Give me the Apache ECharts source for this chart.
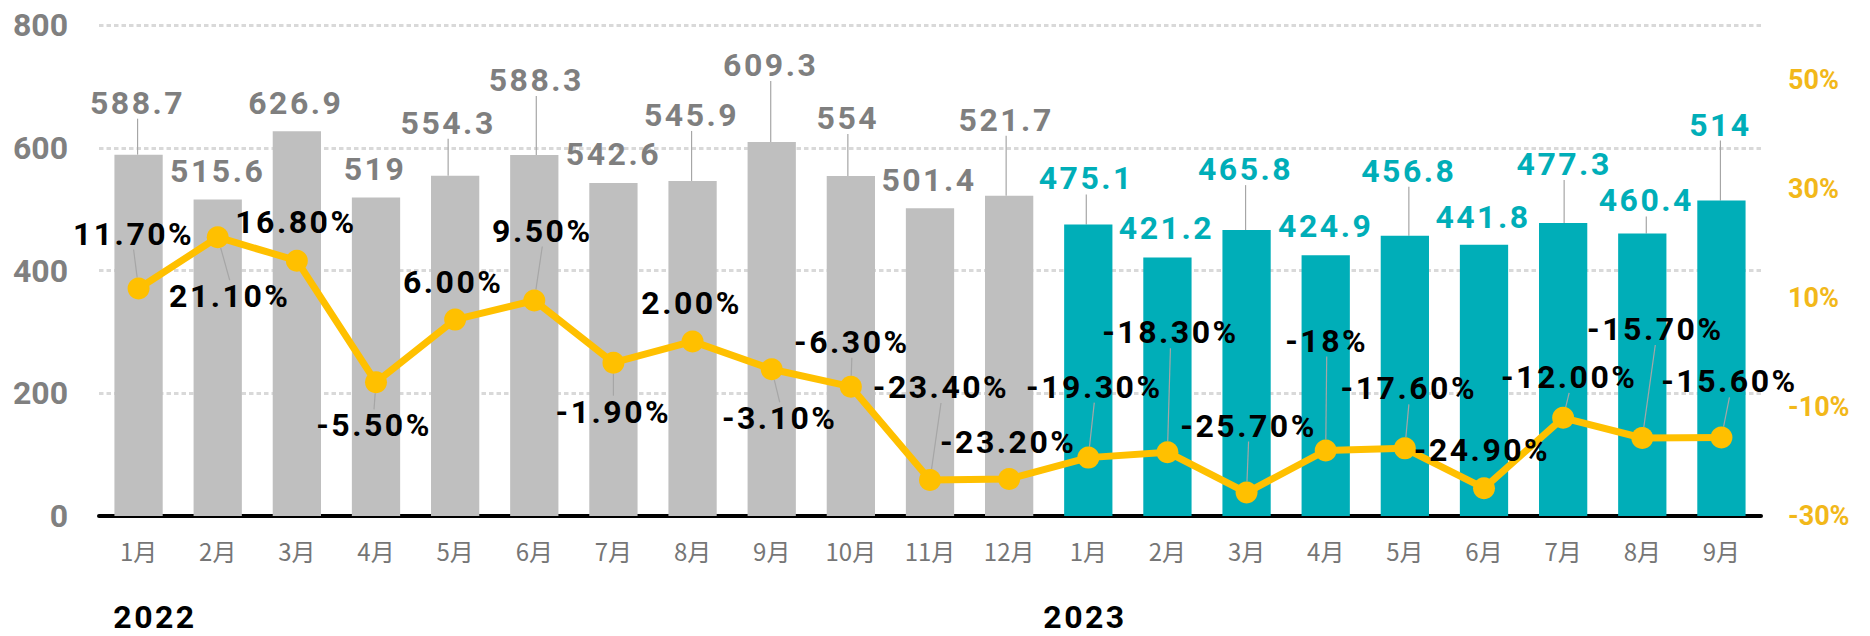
<!DOCTYPE html>
<html>
<head>
<meta charset="utf-8">
<title>chart</title>
<style>
  html, body { margin: 0; padding: 0; background: #fff; }
  #chart { width: 1870px; height: 636px; }
  /* 数据标签字间距 */
  #chart text[fill="#7f7f7f"],
  #chart text[fill="#00aeb8"],
  #chart text[fill="#000000"] { letter-spacing: 2.5px; }
</style>
<script src="https://cdn.jsdelivr.net/npm/echarts@6/dist/echarts.min.js"></script>
</head>
<body>
<div id="chart"></div>
<script>
// 月份
const months = ["1月", "2月", "3月", "4月", "5月", "6月", "7月", "8月", "9月", "10月", "11月", "12月",
  "1月", "2月", "3月", "4月", "5月", "6月", "7月", "8月", "9月"];
const years = ["2022", "2023"];
// 销量
const sales2022 = [588.7, 515.6, 626.9, 519, 554.3, 588.3, 542.6, 545.9, 609.3, 554, 501.4, 521.7];
const sales2023 = [475.1, 421.2, 465.8, 424.9, 456.8, 441.8, 477.3, 460.4, 514];
// 同比增长率
const growth = [11.7, 21.1, 16.8, -5.5, 6.0, 9.5, -1.9, 2.0, -3.1, -6.3, -23.4, -23.2,
  -19.3, -18.3, -25.7, -18, -17.6, -24.9, -12.0, -15.7, -15.6];
const growthText = ["11.70%", "21.10%", "16.80%", "-5.50%", "6.00%", "9.50%", "-1.90%", "2.00%", "-3.10%",
  "-6.30%", "-23.40%", "-23.20%", "-19.30%", "-18.30%", "-25.70%", "-18%", "-17.60%", "-24.90%",
  "-12.00%", "-15.70%", "-15.60%"];
// 坐标轴刻度
const leftTicks = [0, 200, 400, 600, 800];
const rightTicks = [-30, -10, 10, 30, 50];
const rightMax = 60;

// 标签偏移 [dx, dy]
const barLabelOffset = [[-1, -52], [0, -29], [-1, -28], [-1, -28], [-7, -53], [2, -75], [0, -29],
  [-1, -66], [-1, -77], [-3, -58], [-1, -28], [-3, -76], [-2, -46], [-1, -29], [-1, -61], [0, -29],
  [4, -65], [-1, -28], [1, -59], [4, -33], [-1, -76]];
const rateLabelOffset = [[-5, -55], [12, 59], [-1, -39], [-2, 43], [-2, -38], [8, -70], [0, 49],
  [-1, -38], [8, 49], [1, -45], [11, -93], [-1, -37], [6, -71], [3, -120], [2, -67], [1, -110],
  [4, -60], [-2, -38], [6, -41], [13, -109], [8, -56]];

const grayColor = "#bfbfbf";
const tealColor = "#00aeb8";
const lineColor = "#ffc000";
const leaderStyle = { color: "#a6a6a6", width: 1.2 };

const chart = echarts.init(document.getElementById("chart"), null, { renderer: "svg" });

const barData = sales2022.concat(sales2023).map((v, i) => ({
  value: v,
  itemStyle: { color: i < sales2022.length ? grayColor : tealColor },
  label: { color: i < sales2022.length ? "#7f7f7f" : tealColor },
  labelLine: { show: Math.abs(barLabelOffset[i][1]) > 31 }
}));

const lineData = growth.map((v, i) => ({
  value: v,
  labelLine: { show: Math.abs(rateLabelOffset[i][1]) > 40 }
}));

const option = {
  animation: false,
  backgroundColor: "#ffffff",
  grid: {
    left: 99,
    right: 109,
    top: 25,
    bottom: 120,
    containLabel: false,
    outerBoundsMode: "none"
  },
  xAxis: {
    type: "category",
    data: months,
    axisLine: { lineStyle: { color: "#000", width: 4 } },
    axisTick: { show: false },
    axisLabel: {
      interval: 0,
      margin: 22,
      color: "#767676",
      fontSize: 24,
      fontFamily: "Noto Sans CJK JP"
    }
  },
  yAxis: [
    {
      type: "value",
      min: leftTicks[0],
      max: leftTicks[leftTicks.length - 1],
      interval: leftTicks[1] - leftTicks[0],
      axisLine: { show: false },
      axisTick: { show: false },
      axisLabel: {
        margin: 31,
        color: "#808080",
        fontSize: 32,
        fontWeight: "bold",
        fontFamily: "Roboto"
      },
      splitLine: {
        lineStyle: { color: "#d9d9d9", width: 3, type: [4.5, 3] }
      }
    },
    {
      type: "value",
      position: "right",
      min: rightTicks[0],
      max: rightMax,
      interval: rightTicks[1] - rightTicks[0],
      axisLine: { show: false },
      axisTick: { show: false },
      splitLine: { show: false },
      axisLabel: {
        margin: 27,
        color: "#f2b81a",
        fontSize: 27,
        fontWeight: "bold",
        fontFamily: "Roboto",
        showMaxLabel: false,
        formatter: v => (rightTicks.indexOf(v) > -1 ? v + "%" : "")
      }
    }
  ],
  series: [
    {
      name: "销量",
      type: "bar",
      barWidth: "61%",
      data: barData,
      label: {
        show: true,
        position: "top",
        fontSize: 32,
        fontWeight: "bold",
        fontFamily: "Roboto"
      },
      labelLine: { show: true, lineStyle: leaderStyle },
      labelLayout: function (p) {
        const o = barLabelOffset[p.dataIndex];
        const cx = p.rect.x + p.rect.width / 2;
        const top = p.rect.y;
        const x = cx + o[0];
        const y = top + o[1];
        return {
          x: x,
          y: y,
          align: "center",
          verticalAlign: "middle",
          labelLinePoints: [[x, y + 22], [cx, top]]
        };
      }
    },
    {
      name: "同比",
      type: "line",
      yAxisIndex: 1,
      data: lineData,
      symbol: "circle",
      symbolSize: 22,
      lineStyle: { color: lineColor, width: 7 },
      itemStyle: { color: lineColor },
      label: {
        show: true,
        color: "#000000",
        fontSize: 32,
        fontWeight: "bold",
        fontFamily: "Roboto",
        formatter: p => growthText[p.dataIndex]
      },
      labelLine: { show: true, lineStyle: leaderStyle },
      labelLayout: function (p) {
        const o = rateLabelOffset[p.dataIndex];
        const cx = p.rect.x + p.rect.width / 2;
        const cy = p.rect.y + p.rect.height / 2;
        const x = cx + o[0];
        const y = cy + o[1];
        const ey = o[1] < 0 ? y + 22 : y - 22;
        return {
          x: x,
          y: y,
          align: "center",
          verticalAlign: "middle",
          labelLinePoints: [[x, ey], [cx, cy]]
        };
      }
    }
  ],
  graphic: [
    {
      type: "text",
      x: 155,
      y: 617,
      style: {
        text: years[0],
        fill: "#000000",
        font: "bold 32px Roboto",
        lineHeight: 32,
        textAlign: "center",
        textVerticalAlign: "middle"
      }
    },
    {
      type: "text",
      x: 1085,
      y: 617,
      style: {
        text: years[1],
        fill: "#000000",
        font: "bold 32px Roboto",
        lineHeight: 32,
        textAlign: "center",
        textVerticalAlign: "middle"
      }
    }
  ]
};

chart.setOption(option);
</script>
</body>
</html>
